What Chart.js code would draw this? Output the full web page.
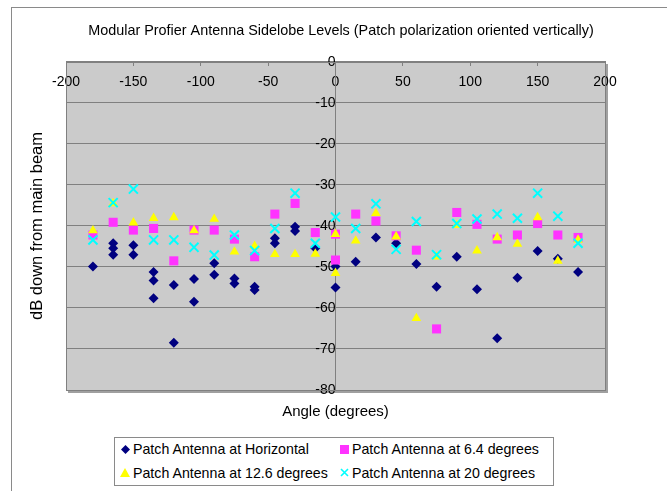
<!DOCTYPE html>
<html>
<head>
<meta charset="utf-8">
<title>Sidelobe levels</title>
<script src="https://cdn.jsdelivr.net/npm/chart.js@4.4.1/dist/chart.umd.min.js"></script>
<style>
  html, body { margin: 0; padding: 0; background: #fff; }
  #wrap { position: relative; width: 667px; height: 491px; overflow: hidden; font-family: "Liberation Sans", Arial, sans-serif; }
  #frame { position: absolute; left: 11px; top: 7px; width: 700px; height: 500px; border-left: 1px solid #8a8a8a; border-top: 1px solid #8a8a8a; }
  #chart { position: absolute; left: 0; top: 0; }
  #legend { position: absolute; left: 114px; top: 437px; width: 438px; height: 47px; border: 1px solid #8a8a8a; background: #fff; }
  .item { position: absolute; font-size: 14.2px; line-height: 16px; white-space: nowrap; color: #000; }
  .item svg { position: absolute; }
</style>
</head>
<body>
<div id="wrap">
  <div id="frame"></div>
  <canvas id="chart" width="667" height="491"></canvas>
  <div id="legend"></div>
</div>
<script>
// ================================
// Data
// ================================
const seriesNames = [
  'Patch Antenna at Horizontal',
  'Patch Antenna at 6.4 degrees',
  'Patch Antenna at 12.6 degrees',
  'Patch Antenna at 20 degrees'
];

const horizAngles = [-180, -165, -165, -165, -150, -150, -135, -135, -135, -120, -120, -105, -105, -90, -90,
  -75, -75, -60, -60, -45, -45, -30, -30, -15, 0, 0, 15, 30, 45, 60, 75, 90, 105, 120, 135, 150, 165, 180];
const horizDb = [-49.9, -44.2, -45.4, -47.0, -44.7, -47.0, -51.2, -53.3, -57.6, -54.4, -68.5, -52.9, -58.5, -49.1, -51.9,
  -52.8, -54.0, -54.8, -55.6, -43.0, -44.2, -40.2, -41.2, -45.4, -49.9, -55.0, -48.7, -42.8, -44.2, -49.3, -54.8, -47.5,
  -55.4, -67.4, -52.6, -46.1, -48.0, -51.2];

const tiltAngles = [-180, -165, -150, -135, -120, -105, -90, -75, -60, -45, -30, -15, 0, 0,
  15, 30, 45, 60, 75, 90, 105, 120, 135, 150, 165, 180];
const tilt64Db = [-42.2, -39.1, -41.0, -40.6, -48.5, -41.0, -41.0, -43.2, -47.5, -37.1, -34.5, -41.6, -42.0, -48.3,
  -37.1, -38.8, -42.4, -45.9, -65.1, -36.7, -39.6, -43.2, -42.2, -39.4, -42.2, -42.8];
const tilt126Db = [-41.1, -34.5, -39.2, -38.1, -37.9, -41.1, -38.3, -46.3, -44.9, -46.9, -46.9, -46.8, -42.0, -51.5,
  -43.6, -36.9, -42.6, -62.5, -47.5, -39.8, -46.0, -42.8, -44.4, -37.9, -48.5, -43.4];

const tilt20Angles = [-180, -165, -150, -135, -120, -105, -90, -75, -60, -45, -30, -15, 0,
  15, 30, 45, 60, 75, 90, 105, 120, 135, 150, 165, 180];
const tilt20Db = [-43.4, -34.3, -31.0, -43.4, -43.4, -45.2, -47.1, -42.2, -46.0, -40.6, -32.0, -44.2, -37.8,
  -40.6, -34.6, -45.7, -38.9, -47.0, -39.4, -38.3, -37.1, -38.1, -32.0, -37.6, -44.2];

const xTicks = { min: -200, max: 200, step: 50 };
const yTicks = { min: -80, max: 0, step: 10 };

function toPoints(xs, ys) {
  return xs.map((x, i) => ({ x: x, y: ys[i] }));
}

const FONT = "'Liberation Sans', Arial, sans-serif";
const GRID = '#808080';

// ================================
// Plot area background + border
// ================================
const plotArea = {
  id: 'plotArea',
  beforeDraw(chart) {
    const { ctx, chartArea: a } = chart;
    ctx.save();
    ctx.fillStyle = '#a0a0a0';
    ctx.fillRect(a.left + 2, a.top + 2, a.right - a.left + 1, a.bottom - a.top + 1);
    ctx.fillStyle = '#cbcbcb';
    ctx.fillRect(a.left, a.top, a.right - a.left, a.bottom - a.top);
    ctx.restore();
  },
  beforeDatasetsDraw(chart) {
    const { ctx, chartArea: a } = chart;
    ctx.save();
    ctx.strokeStyle = GRID;
    ctx.lineWidth = 1;
    ctx.strokeRect(Math.round(a.left) + 0.5, Math.round(a.top) + 0.5, Math.round(a.right - a.left), Math.round(a.bottom - a.top));
    ctx.restore();
  }
};

const ctx = document.getElementById('chart').getContext('2d');
const chart = new Chart(ctx, {
  type: 'scatter',
  data: {
    datasets: [
      { label: seriesNames[0], data: toPoints(horizAngles, horizDb), pointStyle: 'rectRot', pointRadius: 5,
        backgroundColor: '#000080', borderColor: '#000080', borderWidth: 0, order: 3 },
      { label: seriesNames[1], data: toPoints(tiltAngles, tilt64Db), pointStyle: 'rect', pointRadius: 6.4,
        backgroundColor: '#ff33ff', borderColor: '#ff33ff', borderWidth: 0, order: 2 },
      { label: seriesNames[2], data: toPoints(tiltAngles, tilt126Db), pointStyle: 'triangle', pointRadius: 5.6,
        backgroundColor: '#ffff00', borderColor: '#ffff00', borderWidth: 0, order: 1 },
      { label: seriesNames[3], data: toPoints(tilt20Angles, tilt20Db), pointStyle: 'crossRot', pointRadius: 6.4,
        backgroundColor: '#00ffff', borderColor: '#00ffff', borderWidth: 2, order: 0 }
    ].map(d => Object.assign(d, { xAxisID: 'x', yAxisID: 'y', showLine: false }))
  },
  options: {
    responsive: false,
    animation: false,
    devicePixelRatio: 1,
    events: [],
    layout: { padding: { left: 15, right: 0, top: 0, bottom: 66 } },
    plugins: {
      legend: { display: false },
      tooltip: { enabled: false },
      title: {
        display: true,
        text: 'Modular Profier Antenna Sidelobe Levels (Patch polarization oriented vertically)',
        color: '#000',
        font: { family: FONT, size: 14.4, weight: 'normal' },
        padding: { top: 22, bottom: 22.7 }
      }
    },
    scales: {
      x: {
        type: 'linear',
        position: { y: 0 },
        min: xTicks.min, max: xTicks.max,
        ticks: { stepSize: xTicks.step, color: '#000', font: { family: FONT, size: 14 }, padding: 7.6, maxRotation: 0, autoSkip: false },
        grid: { drawOnChartArea: false, drawTicks: true, tickLength: 4, color: GRID },
        border: { display: true, color: GRID }
      },
      y: {
        type: 'linear',
        position: { x: 0 },
        min: yTicks.min, max: yTicks.max,
        ticks: { stepSize: yTicks.step, color: '#000', font: { family: FONT, size: 14 }, padding: 6 },
        grid: { drawOnChartArea: true, drawTicks: true, tickLength: 4, color: GRID },
        border: { display: true, color: GRID }
      },
      // title-only axes that hold the layout
      x2: {
        type: 'linear', position: 'bottom',
        ticks: { display: false },
        grid: { display: false, drawTicks: false },
        border: { display: false },
        title: { display: true, text: 'Angle (degrees)', color: '#000', font: { family: FONT, size: 15 }, padding: { top: 13, bottom: 4 } }
      },
      y2: {
        type: 'linear', position: 'left',
        ticks: { display: false },
        grid: { display: false, drawTicks: false },
        border: { display: false },
        title: { display: true, text: 'dB down from main beam', color: '#000', font: { family: FONT, size: 16.5 }, padding: { top: 12.1, bottom: 19.1 } }
      },
      y3: {
        type: 'linear', position: 'right',
        ticks: { display: false },
        grid: { display: false, drawTicks: false },
        border: { display: false },
        afterFit: (scale) => { scale.width = 62; }
      }
    }
  },
  plugins: [plotArea]
});

// ================================
// Legend (two columns, boxed)
// ================================
const markers = [
  '<svg width="9" height="9" style="left:-12.5px;top:3.5px"><polygon points="4.5,0 9,4.5 4.5,9 0,4.5" fill="#000080"/></svg>',
  '<svg width="9" height="9" style="left:-12.5px;top:3.5px"><rect width="9" height="9" fill="#ff33ff"/></svg>',
  '<svg width="10" height="9" style="left:-13px;top:3px"><polygon points="5,0 10,9 0,9" fill="#ffff00"/></svg>',
  '<svg width="9" height="9" style="left:-12.5px;top:3.5px"><path d="M1,1 L8,8 M8,1 L1,8" stroke="#00ffff" stroke-width="1.6"/></svg>'
];
const legendPos = [[18, 3.3], [237, 3.3], [18, 26.7], [237, 26.7]];
const legendEl = document.getElementById('legend');
seriesNames.forEach((name, i) => {
  const item = document.createElement('div');
  item.className = 'item';
  item.style.left = legendPos[i][0] + 'px';
  item.style.top = legendPos[i][1] + 'px';
  item.innerHTML = markers[i];
  item.appendChild(document.createTextNode(name));
  legendEl.appendChild(item);
});
</script>
</body>
</html>
